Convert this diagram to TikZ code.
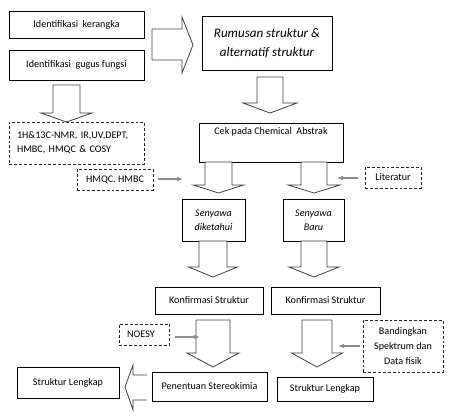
\documentclass[tikz,border=0pt]{standalone}
\usepackage{fontspec}
\setmainfont{Carlito}
\usetikzlibrary{positioning, arrows.meta, calc}

\definecolor{blkgray}{HTML}{7F7F7F}
\definecolor{thingray}{HTML}{8C8C8C}

% fat block arrow pointing down: cx, top, shaft half width, head y, head half width, tip y
\newcommand{\blkdown}[6]{%
  \draw[blk] (#1-#3,#2) -- (#1-#3,#4) -- (#1-#5,#4) -- (#1,#6)
    -- (#1+#5,#4) -- (#1+#3,#4) -- (#1+#3,#2) -- cycle;}

\begin{document}
\begin{tikzpicture}[
  x=0.75pt, y=-0.75pt,
  box/.style={
    rectangle, draw=black, fill=white, line width=0.6pt,
    inner sep=2pt, align=center,
    font=\fontsize{7.6}{10.5}\selectfont
  },
  dbox/.style={box, dash pattern=on 2.2pt off 1.5pt, draw=black!85},
  arr/.style={-{Latex[length=4.5pt,width=3.5pt]}, line width=0.8pt, color=thingray},
  blk/.style={draw=black!75, line width=0.6pt, fill=white, line join=miter},
]
\useasboundingbox[fill=white] (0,0) rectangle (457,418);

% Top left
\node[box, minimum width=101.25pt, minimum height=20.25pt] (kerangka) at (76.5,24.5) {Identifikasi\ \ kerangka};
\node[box, minimum width=101.25pt, minimum height=22.5pt] (gugus) at (76.5,65) {Identifikasi\ \ gugus fungsi};
\node[dbox, text width=89.25pt, inner xsep=6pt, align=left, minimum height=31.5pt] (nmr) at (76.5,143)
  {1H\&13C-NMR, IR,UV,DEPT,\\HMBC, HMQC \& COSY};

% Top right
\node[box, minimum width=97.5pt, minimum height=40.5pt, font=\fontsize{9.8}{14.25}\selectfont\itshape] (rumusan) at (267,43)
  {Rumusan struktur \&\\alternatif struktur};
\node[box, minimum width=108pt, text height=5.5pt, text depth=17.75pt, inner ysep=3pt] (cek) at (271,142.5)
  {Cek pada Chemical\ \ Abstrak};

% Middle
\node[dbox, minimum width=57pt, minimum height=15.75pt] (hmqc) at (115,179.5) {HMQC. HMBC};
\node[dbox, minimum width=42pt, minimum height=15.75pt] (literatur) at (393,177.5) {Literatur};
\node[box, minimum width=47.25pt, minimum height=31.5pt, font=\fontsize{7.6}{10.5}\selectfont\itshape] (diketahui) at (213.5,220)
  {Senyawa\\diketahui};
\node[box, minimum width=45.75pt, minimum height=31.5pt, font=\fontsize{7.6}{10.5}\selectfont\itshape] (baru) at (313.5,220)
  {Senyawa\\Baru};

% Konfirmasi
\node[box, minimum width=81pt, minimum height=20.25pt] (konfA) at (209,300.5) {Konfirmasi Struktur};
\node[box, minimum width=81.75pt, minimum height=20.25pt] (konfB) at (325.5,300.5) {Konfirmasi Struktur};
\node[dbox, text width=26pt, inner xsep=6pt, align=left, minimum height=15.75pt] (noesy) at (144.5,334.5) {NOESY};
\node[dbox, minimum width=60pt, minimum height=39pt, font=\fontsize{7.6}{11}\selectfont] (banding) at (403,346)
  {Bandingkan\\Spektrum dan\\Data fisik};

% Bottom
\node[box, minimum width=76.5pt, minimum height=23.25pt] (lengkapA) at (68,382.5) {Struktur Lengkap};
\node[box, minimum width=86.25pt, minimum height=21.75pt] (stereo) at (209.5,386.5) {Penentuan Stereokimia};
\node[box, minimum width=72pt, minimum height=18pt] (lengkapB) at (325,389) {Struktur Lengkap};

% Block arrows
\draw[blk] (152,29) -- (182,29) -- (182,17) -- (193,45) -- (182,73) -- (182,60) -- (152,60) -- cycle;
\blkdown{66.5}{85}{13.5}{113}{25.5}{122}
\blkdown{270}{77}{13}{103}{27}{113}
\blkdown{218.5}{162}{13.5}{185}{25}{193}
\blkdown{314}{162}{13}{185}{26}{193}
\blkdown{213}{241}{14}{267}{24.5}{277}
\blkdown{314}{241}{13}{267}{25}{277}
\blkdown{213}{320}{17}{353}{26}{367}
\blkdown{317}{320}{15}{353}{25.5}{367}
\draw[blk] (147,375) -- (133,375) -- (133,365) -- (125,387) -- (133,410) -- (133,400) -- (147,400);

% Side inputs
\coordinate (hmqcend) at (183,179);
\coordinate (literend) at (337,178);
\coordinate (noesyend) at (200,337);
\coordinate (bandend) at (338,346);
\draw[arr, shorten <=3.75pt] (hmqc.east |- hmqcend) -- (hmqcend);
\draw[arr, shorten <=5.25pt] (literatur.west |- literend) -- (literend);
\draw[arr, shorten <=3.75pt] (noesy.east |- noesyend) -- (noesyend);
\draw[arr, shorten <=2.25pt] (banding.west |- bandend) -- (bandend);
\end{tikzpicture}
\end{document}
